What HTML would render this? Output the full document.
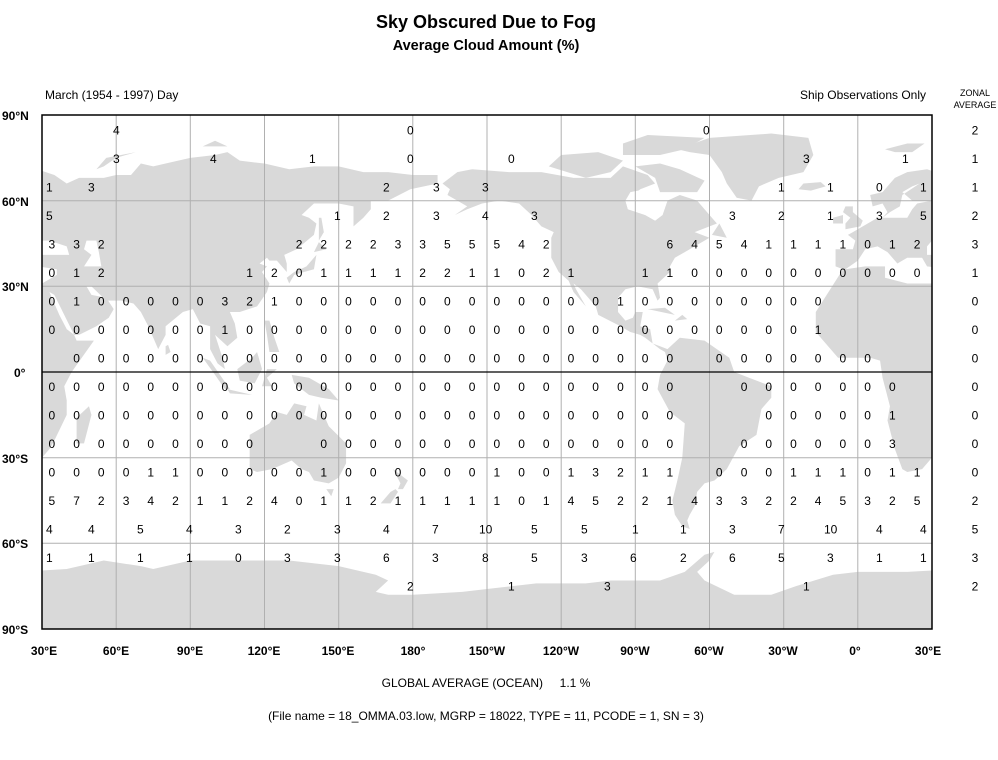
<!DOCTYPE html>
<html><head><meta charset="utf-8"><style>
html,body{margin:0;padding:0;background:#fff;}
svg{display:block;font-family:"Liberation Sans",Arial,sans-serif;}
</style></head><body>
<svg width="998" height="760" viewBox="0 0 998 760" xmlns="http://www.w3.org/2000/svg">
<defs>
<clipPath id="frame"><rect x="42" y="115" width="890" height="514"/></clipPath>
</defs>
<text x="486" y="28" font-size="18" font-weight="bold" text-anchor="middle">Sky Obscured Due to Fog</text>
<text x="486" y="50" font-size="14.5" font-weight="bold" text-anchor="middle">Average Cloud Amount (%)</text>
<text x="45" y="99" font-size="12">March (1954 - 1997) Day</text>
<text x="926" y="99" font-size="12" text-anchor="end">Ship Observations Only</text>
<text x="975" y="96" font-size="9" text-anchor="middle">ZONAL</text>
<text x="975" y="108" font-size="9" text-anchor="middle">AVERAGE</text>

<g clip-path="url(#frame)">
<g transform="matrix(2.4722,0,0,-2.8556,-32.17,372)">
<g id="land" fill="#d9d9d9">
<path d="M-6,36 L-17,21 -17,14 -8,5 5,5 9,4 10,-2 13,-12 12,-17 15,-27 18,-34 20,-35 26,-34 33,-27 35,-24 40,-15 40,-10 39,-5 42,0 51,11 44,11 43,13 45,13 52,16 57,19 59,22 56,26 50,27 48,30 50,30 56,25 62,25 67,24 70,21 73,16 77,8 80,13 80,16 87,21 91,22 94,17 98,16 98,8 101,3 104,1 103,5 100,13 105,9 109,12 108,17 106,21 110,21 117,23 121,28 122,31 119,35 121,37 118,38 121,40 122,39 125,39 129,35 129,38 128,41 133,43 140,48 141,52 138,54 135,55 140,59 150,59 156,58 156,51 160,54 163,57 163,60 170,60 179,64 190,66 190,69 180,69 170,70 160,70 150,72 140,72 130,71 120,73 110,74 105,77 100,76 90,75 80,73 75,72 70,73 66,69 60,69 55,68 45,68 40,66 35,69 28,71 20,70 15,68 10,63 5,62 6,58 10,59 12,56 10,54 8,54 4,52 2,51 -2,49 -4,48 -1,46 -2,43 -9,43 -9,37 Z"/>
<path d="M-180,66 L-170,66 -170,69 -180,69 Z"/>
<path d="M-5,50 L1,51 2,53 -2,56 -2,58 -5,58 -6,56 -3,54 -5,52 Z"/>
<path d="M-10,52 L-6,52 -6,55 -10,54 Z"/>
<path d="M-24,64 L-22,66 -15,66.5 -13,65 -19,63.5 Z"/>
<path d="M44,-25 L47,-25 50,-15 49,-12 44,-16 Z"/>
<path d="M130,31 L132,34 136,35 140,36 141,41 140,40 137,37 132,35 129,33 Z"/>
<path d="M140,42 L145,43 142,45.5 Z"/>
<path d="M142,46 L144,49 143,54 142,54 Z"/>
<path d="M95,5 L98,4 106,-6 104,-6 100,-1 Z"/>
<path d="M109,1 L110,-3 116,-4 119,1 117,7 115,5 Z"/>
<path d="M105,-6 L115,-8 106,-7.5 Z"/>
<path d="M119,-5 L121,1 125,1 121,-2 123,-5 Z"/>
<path d="M131,-1 L138,-2 146,-6 150,-10 143,-9 138,-8 132,-4 Z"/>
<path d="M120,18 L122,18 124,12 126,7 122,7 121,13 Z"/>
<path d="M80,6 L82,7 81,9.5 80,9 Z"/>
<path d="M114,-22 L114,-34 117,-35 123,-34 131,-31 135,-34 138,-35 140,-38 146,-39 150,-37 153,-32 153,-25 146,-19 142,-11 141,-17 136,-15 137,-12 132,-11 129,-15 125,-14 122,-18 Z"/>
<path d="M145,-41 L148,-41 147,-43.5 Z"/>
<path d="M172,-34 L178,-38 176,-41 174,-41 175,-39 Z"/>
<path d="M173,-41 L174,-42 171,-46 167,-46 171,-42 Z"/>
<path d="M52,71 L56,75 68,77 60,75 55,72 Z"/>
<path d="M11,78 L20,80 27,80 22,77 15,77 Z"/>
<path d="M95,79 L105,79 100,81 Z"/>
<path d="M-168,66 L-162,70 -156,71 -141,70 -128,70 -115,68 -100,68 -95,72 -85,69 -82,66 -88,64 -94,60 -93,57 -86,55 -82,53 -79,55 -77,60 -72,62 -65,60 -61,56 -57,52 -66,49 -60,47 -66,44 -70,42 -74,40 -76,37 -76,35 -81,31 -80,26 -81,25 -83,29 -89,30 -94,29 -97,26 -97,21 -94,18 -91,19 -90,21 -87,21 -88,16 -84,15 -83,10 -80,9 -77,8 -72,12 -62,11 -52,5 -50,0 -44,-2 -35,-5 -35,-9 -39,-13 -41,-22 -48,-26 -53,-34 -58,-38 -62,-39 -65,-42 -66,-47 -68,-50 -69,-52 -68,-55 -71,-54 -74,-50 -75,-45 -73,-38 -71,-30 -70,-18 -76,-14 -81,-6 -80,-1 -77,4 -78,7 -80,8 -86,12 -88,13 -92,14 -96,16 -105,20 -106,23 -112,29 -115,31 -114,29 -110,23 -112,25 -115,28 -117,32 -121,35 -124,40 -124,47 -123,49 -128,51 -132,55 -137,59 -145,60 -152,59 -158,57 -163,55 -158,58 -162,60 -166,62 -165,64 Z"/>
<path d="M-80,63 L-65,63 -62,67 -72,71 -80,73 -90,72 -82,68 Z"/>
<path d="M-125,72 L-110,68 -100,70 -95,74 -105,77 -120,76 Z"/>
<path d="M-95,76 L-80,76 -70,78 -62,82 -85,83 -95,80 Z"/>
<path d="M-73,78 L-60,82 -35,83.5 -20,82 -18,76 -22,70 -32,68 -40,65 -43,60 -49,61 -53,66 -55,70 -60,76 -68,77 Z"/>
<path d="M-85,22 L-74,20 -78,22.5 Z"/>
<path d="M-74,18 L-69,18.5 -71,20 Z"/>
<path d="M-59,48 L-53,47 -56,52 Z"/>
<path d="M-180,-78 L-160,-77 -150,-76 -130,-74 -110,-74 -100,-73 -80,-73 -70,-70 -62,-64 -58,-63 -60,-66 -65,-70 -62,-73 -50,-78 -35,-78 -25,-75 -10,-71 0,-70 20,-70 40,-69 55,-66 70,-68 75,-69 90,-66 110,-66 130,-66 150,-68 165,-71 170,-73 165,-77 170,-78 180,-78 180,-91 -180,-91 Z"/>
<g fill="#fff">
<path d="M-5,36 L3,37 11,37 11,33 20,31 30,31 36,34 36,36 28,37 26,40 23,40 20,40 16,38 12,42 8,44 3,43 0,39 Z"/>
<path d="M28,41 L41,41 40,44 33,46 30,46 28,44 Z"/>
<path d="M47,37 L54,37 53,42 52,46 48,46 47,43 50,41 Z"/>
<path d="M33,28 L35,27 43,13 40,15 37,20 Z"/>
<path d="M10,54 L20,54 22,57 24,59 30,60 22,60 18,63 22,65 25,66 18,62 17,58 13,56 Z"/>
<path d="M-94,60 L-93,57 -86,55 -82,53 -79,55 -77,60 -78,62 -86,64 -92,63 Z"/>
</g>
</g>
<use href="#land" transform="translate(360,0)"/>
</g>
</g>

<g stroke="#b0b0b0" stroke-width="1">
<line x1="116.2" y1="115" x2="116.2" y2="629"/><line x1="190.3" y1="115" x2="190.3" y2="629"/>
<line x1="264.5" y1="115" x2="264.5" y2="629"/><line x1="338.7" y1="115" x2="338.7" y2="629"/>
<line x1="412.8" y1="115" x2="412.8" y2="629"/><line x1="487" y1="115" x2="487" y2="629"/>
<line x1="561.2" y1="115" x2="561.2" y2="629"/><line x1="635.3" y1="115" x2="635.3" y2="629"/>
<line x1="709.5" y1="115" x2="709.5" y2="629"/><line x1="783.7" y1="115" x2="783.7" y2="629"/>
<line x1="857.8" y1="115" x2="857.8" y2="629"/>
<line x1="42" y1="200.7" x2="932" y2="200.7"/><line x1="42" y1="286.3" x2="932" y2="286.3"/>
<line x1="42" y1="457.7" x2="932" y2="457.7"/><line x1="42" y1="543.3" x2="932" y2="543.3"/>
</g>
<line x1="42" y1="372" x2="932" y2="372" stroke="#000" stroke-width="1.3"/>
<rect x="42" y="115" width="890" height="514" fill="none" stroke="#000" stroke-width="1.5"/>

<g font-size="12" fill="#000">
<text x="113" y="134.5">4</text><text x="407" y="134.5">0</text><text x="703" y="134.5">0</text>
<text x="113" y="163">3</text><text x="210" y="163">4</text><text x="309" y="163">1</text><text x="407" y="163">0</text><text x="508" y="163">0</text><text x="803" y="163">3</text><text x="902" y="163">1</text>
<text x="46" y="191.5">1</text><text x="88" y="191.5">3</text><text x="383" y="191.5">2</text><text x="433" y="191.5">3</text><text x="482" y="191.5">3</text><text x="778" y="191.5">1</text><text x="827" y="191.5">1</text><text x="876" y="191.5">0</text><text x="920" y="191.5">1</text>
<text x="46" y="220">5</text><text x="334" y="220">1</text><text x="383" y="220">2</text><text x="433" y="220">3</text><text x="482" y="220">4</text><text x="531" y="220">3</text><text x="729" y="220">3</text><text x="778" y="220">2</text><text x="827" y="220">1</text><text x="876" y="220">3</text><text x="920" y="220">5</text>

<text y="248.5" x="48.5 73.2 97.9 295.7 320.4 345.1 369.9 394.6 419.3 444 468.7 493.5 518.2 542.9 666.5 691.2 715.9 740.7 765.4 790.1 814.8 839.5 864.3 889 913.7">3322222335554264541111012</text>
<text y="277" x="48.5 73.2 97.9 246.3 271 295.7 320.4 345.1 369.9 394.6 419.3 444 468.7 493.5 518.2 542.9 567.6 641.8 666.5 691.2 715.9 740.7 765.4 790.1 814.8 839.5 864.3 889 913.7">01212011112211021110000000000</text>
<text y="305.5" x="48.5 73.2 97.9 122.7 147.4 172.1 196.8 221.5 246.3 271 295.7 320.4 345.1 369.9 394.6 419.3 444 468.7 493.5 518.2 542.9 567.6 592.3 617.1 641.8 666.5 691.2 715.9 740.7 765.4 790.1 814.8">01000003210000000000000100000000</text>
<text y="334" x="48.5 73.2 97.9 122.7 147.4 172.1 196.8 221.5 246.3 271 295.7 320.4 345.1 369.9 394.6 419.3 444 468.7 493.5 518.2 542.9 567.6 592.3 617.1 641.8 666.5 691.2 715.9 740.7 765.4 790.1 814.8">00000001000000000000000000000001</text>
<text y="362.5" x="73.2 97.9 122.7 147.4 172.1 196.8 221.5 246.3 271 295.7 320.4 345.1 369.9 394.6 419.3 444 468.7 493.5 518.2 542.9 567.6 592.3 617.1 641.8 666.5 715.9 740.7 765.4 790.1 814.8 839.5 864.3">00000000000000000000000000000000</text>
<text y="391" x="48.5 73.2 97.9 122.7 147.4 172.1 196.8 221.5 246.3 271 295.7 320.4 345.1 369.9 394.6 419.3 444 468.7 493.5 518.2 542.9 567.6 592.3 617.1 641.8 666.5 740.7 765.4 790.1 814.8 839.5 864.3 889">000000000000000000000000000000000</text>
<text y="419.5" x="48.5 73.2 97.9 122.7 147.4 172.1 196.8 221.5 246.3 271 295.7 320.4 345.1 369.9 394.6 419.3 444 468.7 493.5 518.2 542.9 567.6 592.3 617.1 641.8 666.5 765.4 790.1 814.8 839.5 864.3 889">00000000000000000000000000000001</text>
<text y="448" x="48.5 73.2 97.9 122.7 147.4 172.1 196.8 221.5 246.3 320.4 345.1 369.9 394.6 419.3 444 468.7 493.5 518.2 542.9 567.6 592.3 617.1 641.8 666.5 740.7 765.4 790.1 814.8 839.5 864.3 889">0000000000000000000000000000003</text>
<text y="476.5" x="48.5 73.2 97.9 122.7 147.4 172.1 196.8 221.5 246.3 271 295.7 320.4 345.1 369.9 394.6 419.3 444 468.7 493.5 518.2 542.9 567.6 592.3 617.1 641.8 666.5 715.9 740.7 765.4 790.1 814.8 839.5 864.3 889 913.7">00001100000100000010013211000111011</text>
<text y="505" x="48.5 73.2 97.9 122.7 147.4 172.1 196.8 221.5 246.3 271 295.7 320.4 345.1 369.9 394.6 419.3 444 468.7 493.5 518.2 542.9 567.6 592.3 617.1 641.8 666.5 691.2 715.9 740.7 765.4 790.1 814.8 839.5 864.3 889 913.7">572342112401121111101452214332245325</text>

<text x="46" y="533.5">4</text><text x="88" y="533.5">4</text><text x="137" y="533.5">5</text><text x="186" y="533.5">4</text><text x="235" y="533.5">3</text><text x="284" y="533.5">2</text><text x="334" y="533.5">3</text><text x="383" y="533.5">4</text><text x="432" y="533.5">7</text><text x="479" y="533.5">10</text><text x="531" y="533.5">5</text><text x="581" y="533.5">5</text><text x="632" y="533.5">1</text><text x="680" y="533.5">1</text><text x="729" y="533.5">3</text><text x="778" y="533.5">7</text><text x="824" y="533.5">10</text><text x="876" y="533.5">4</text><text x="920" y="533.5">4</text>
<text x="46" y="562">1</text><text x="88" y="562">1</text><text x="137" y="562">1</text><text x="186" y="562">1</text><text x="235" y="562">0</text><text x="284" y="562">3</text><text x="334" y="562">3</text><text x="383" y="562">6</text><text x="432" y="562">3</text><text x="482" y="562">8</text><text x="531" y="562">5</text><text x="581" y="562">3</text><text x="630" y="562">6</text><text x="680" y="562">2</text><text x="729" y="562">6</text><text x="778" y="562">5</text><text x="827" y="562">3</text><text x="876" y="562">1</text><text x="920" y="562">1</text>
<text x="407" y="590.5">2</text><text x="508" y="590.5">1</text><text x="604" y="590.5">3</text><text x="803" y="590.5">1</text>
</g>

<g font-size="12" text-anchor="middle">
<text x="975" y="134.5">2</text><text x="975" y="163">1</text><text x="975" y="191.5">1</text><text x="975" y="220">2</text><text x="975" y="248.5">3</text><text x="975" y="277">1</text><text x="975" y="305.5">0</text><text x="975" y="334">0</text><text x="975" y="362.5">0</text><text x="975" y="391">0</text><text x="975" y="419.5">0</text><text x="975" y="448">0</text><text x="975" y="476.5">0</text><text x="975" y="505">2</text><text x="975" y="533.5">5</text><text x="975" y="562">3</text><text x="975" y="590.5">2</text>
</g>

<g font-size="12" font-weight="bold">
<text x="2" y="120">90°N</text><text x="2" y="206">60°N</text><text x="2" y="291">30°N</text><text x="14" y="377">0°</text><text x="2" y="463">30°S</text><text x="2" y="548">60°S</text><text x="2" y="634">90°S</text>
</g>
<g font-size="12" font-weight="bold" text-anchor="middle">
<text x="44" y="655">30°E</text><text x="116" y="655">60°E</text><text x="190" y="655">90°E</text><text x="264" y="655">120°E</text><text x="338" y="655">150°E</text><text x="413" y="655">180°</text><text x="487" y="655">150°W</text><text x="561" y="655">120°W</text><text x="635" y="655">90°W</text><text x="709" y="655">60°W</text><text x="783" y="655">30°W</text><text x="855" y="655">0°</text><text x="928" y="655">30°E</text>
</g>
<text x="486" y="687" font-size="12" text-anchor="middle" xml:space="preserve">GLOBAL AVERAGE (OCEAN)     1.1 %</text>
<text x="486" y="720" font-size="12" text-anchor="middle">(File name = 18_OMMA.03.low, MGRP = 18022, TYPE = 11, PCODE = 1, SN = 3)</text>
</svg>
</body></html>
